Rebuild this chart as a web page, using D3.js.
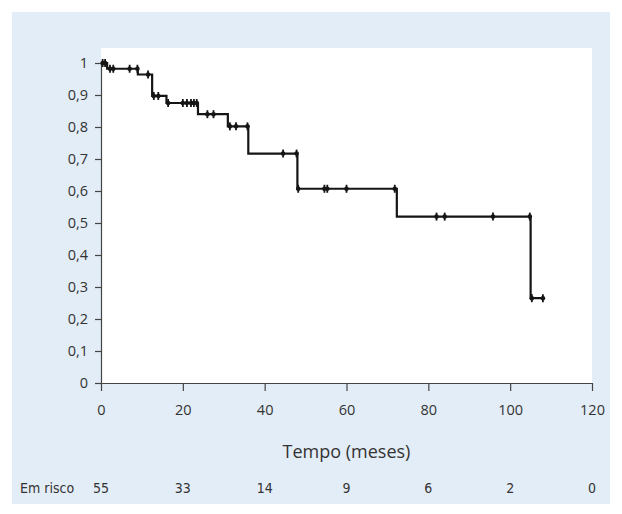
<!DOCTYPE html>
<html lang="pt">
<head>
<meta charset="utf-8">
<title>Sobrevida</title>
<script src="https://cdnjs.cloudflare.com/ajax/libs/d3/7.8.5/d3.min.js"></script>
<style>
body { margin: 0; background: #fff; }
text { font-family: "Open Sans", "DejaVu Sans", sans-serif; fill: #333; }
.risk text { font-family: "Liberation Sans Narrow", "DejaVu Sans Condensed", "Roboto", sans-serif; }
</style>
</head>
<body>
<div id="chart"></div>
<script>

// Kaplan-Meier steps (time in months, survival after the step)
var stepTimes = [0, 1.5, 9, 12.5, 16, 23.7, 31, 36, 48, 72.3, 105]
var survival  = [1, 0.982, 0.964, 0.897, 0.875, 0.84, 0.802, 0.717, 0.607, 0.52, 0.265]
var endTime = 108

// censored observations
var censorTimes = [0.4, 1, 2.2, 3, 7, 8.9, 11.5, 12.9, 14, 16.4, 20, 21, 22, 22.7, 23.4, 26, 27.5,
                   31.5, 33, 35.8, 44.5, 47.8, 48.2, 54.6, 55.3, 60, 71.8, 82, 84, 95.8, 104.8, 105.3, 108]

var xTicks = [0, 20, 40, 60, 80, 100, 120]
var yTicks = [0, 0.1, 0.2, 0.3, 0.4, 0.5, 0.6, 0.7, 0.8, 0.9, 1]
var atRisk = [55, 33, 14, 9, 6, 2, 0]

var width = 622, height = 514
var plot = { left: 101, right: 592, top: 63, bottom: 383 }

var svg = d3.select('#chart').append('svg')
    .attr('width', width)
    .attr('height', height)

svg.append('rect')
    .attr('x', 12).attr('y', 12)
    .attr('width', 598).attr('height', 492)
    .attr('fill', '#e3edf7')

svg.append('rect')
    .attr('x', plot.left).attr('y', 48)
    .attr('width', plot.right - plot.left).attr('height', plot.bottom - 48)
    .attr('fill', '#fff')

var x = d3.scaleLinear().domain([0, 120]).range([plot.left, plot.right])
var y = d3.scaleLinear().domain([0, 1]).range([plot.bottom, plot.top])

function survivalAt(t) {
    var s = 1
    for (var i = 0; i < stepTimes.length; i++) {
        if (stepTimes[i] <= t) s = survival[i]
    }
    return s
}

// axes
svg.append('g')
    .attr('transform', 'translate(0,' + plot.bottom + ')')
    .call(d3.axisBottom(x).tickValues(xTicks).tickSize(8).tickPadding(14).tickSizeOuter(0))
svg.append('g')
    .attr('transform', 'translate(' + plot.left + ',0)')
    .call(d3.axisLeft(y).tickValues(yTicks).tickSize(6).tickPadding(7).tickSizeOuter(0)
        .tickFormat(function(d) { return d3.format('.1~f')(d).replace('.', ',') }))

svg.selectAll('.domain, .tick line').attr('stroke', '#444').attr('stroke-width', 1.2)
svg.selectAll('.tick text').attr('font-size', 14.5).attr('fill', '#333')
    .style('font-family', '"Open Sans", "DejaVu Sans", sans-serif')

// curve
var pts = stepTimes.map(function(t, i) { return [t, survival[i]] })
pts.push([endTime, survival[survival.length - 1]])

svg.append('path')
    .datum(pts)
    .attr('fill', 'none')
    .attr('stroke', '#151515')
    .attr('stroke-width', 2.2)
    .attr('d', d3.line()
        .x(function(d) { return x(d[0]) })
        .y(function(d) { return y(d[1]) })
        .curve(d3.curveStepAfter))

// censor marks
var marks = svg.append('g').selectAll('g')
    .data(censorTimes)
    .enter().append('g')
    .attr('transform', function(d) { return 'translate(' + x(d) + ',' + y(survivalAt(d)) + ')' })

marks.append('line')
    .attr('y1', -4).attr('y2', 4)
    .attr('stroke', '#151515').attr('stroke-width', 1.8)
marks.append('circle')
    .attr('r', 2.3)
    .attr('fill', '#151515')

// axis title
svg.append('text')
    .attr('x', (plot.left + plot.right) / 2)
    .attr('y', 458)
    .attr('text-anchor', 'middle')
    .attr('font-size', 18)
    .text('Tempo (meses)')

// number at risk
var risk = svg.append('g').attr('class', 'risk')
risk.append('text')
    .attr('x', 20).attr('y', 493)
    .attr('font-size', 14)
    .text('Em risco')
risk.selectAll('.n')
    .data(atRisk)
    .enter().append('text')
    .attr('class', 'n')
    .attr('x', function(d, i) { return x(xTicks[i]) })
    .attr('y', 493)
    .attr('text-anchor', 'middle')
    .attr('font-size', 14)
    .text(function(d) { return d })

</script>
</body>
</html>
